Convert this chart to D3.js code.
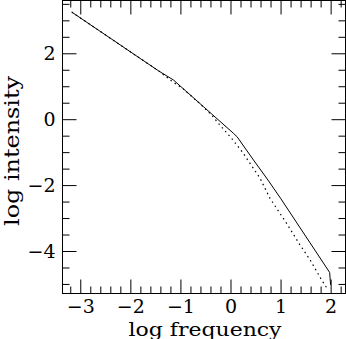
<!DOCTYPE html>
<html><head><meta charset="utf-8">
<script src="https://cdn.jsdelivr.net/npm/d3@7"></script>
<style>
html,body{margin:0;padding:0;background:#fff;}
svg{display:block;}
text{font-family:"DejaVu Serif","Liberation Serif",serif;fill:#000;}
</style></head>
<body>
<script>
// Data (log frequency, log intensity)
const solidX = [-3.17, -1.81, -1.43, -1.14, -0.54, 0.06, 0.13, 0.46, 0.75, 1.0, 1.98, 2.0];
const solidY = [3.25, 1.85, 1.46, 1.19, 0.38, -0.43, -0.53, -1.24, -1.85, -2.40, -4.65, -5.03];
const dotX = [-3.17, -1.81, -1.43, -1.176, -0.944, -0.611, -0.377, -0.211, 0.022, 0.253, 0.589, 0.788, 1.12, 1.39, 1.59, 1.82, 1.95];
const dotY = [3.25, 1.85, 1.46, 1.16, 0.92, 0.47, 0.13, -0.18, -0.58, -1.03, -1.79, -2.40, -3.16, -3.82, -4.27, -4.88, -5.18];
const xMajor = [-3, -2, -1, 0, 1, 2];
const xMinor = [-3.2,-2.8,-2.6,-2.4,-2.2,-1.8,-1.6,-1.4,-1.2,-0.8,-0.6,-0.4,-0.2,0.2,0.4,0.6,0.8,1.2,1.4,1.6,1.8,2.2];
const yMajor = [-4, -2, 0, 2];
const yMinor = [-5,-4.5,-3.5,-3,-2.5,-1.5,-1,-0.5,0.5,1,1.5,2.5,3,3.5];
const xDomain = [-3.355, 2.297];
const yDomain = [-5.29, 3.602];
const xTitle = "log frequency";
const yTitle = "log intensity";

const W = 346, H = 339;
const L = 62.5, R = 345.5, T = 0.5, B = 293.5;
const svg = d3.select("body").append("svg").attr("width", W).attr("height", H);
const x = d3.scaleLinear().domain(xDomain).range([L, R]);
const y = d3.scaleLinear().domain(yDomain).range([B, T]);
const fmt = d => d < 0 ? "\u2212" + Math.abs(d) : String(d);

function styleAxis(g){
  g.select(".domain").remove();
  g.selectAll("line").attr("stroke","#000").attr("stroke-width",1);
  g.selectAll("text").style("font-size","19px").attr("fill","#000");
}
// bottom
svg.append("g").attr("transform",`translate(0,${B})`)
  .call(d3.axisBottom(x).tickValues(xMajor).tickSize(-14).tickPadding(6.5).tickFormat(fmt)).call(styleAxis);
svg.append("g").attr("transform",`translate(0,${B})`)
  .call(d3.axisBottom(x).tickValues(xMinor).tickSize(-7).tickFormat("")).call(styleAxis);
// top
svg.append("g").attr("transform",`translate(0,${T})`)
  .call(d3.axisTop(x).tickValues(xMajor).tickSize(-14).tickFormat("")).call(styleAxis);
svg.append("g").attr("transform",`translate(0,${T})`)
  .call(d3.axisTop(x).tickValues(xMinor).tickSize(-7).tickFormat("")).call(styleAxis);
// left
svg.append("g").attr("transform",`translate(${L},0)`)
  .call(d3.axisLeft(y).tickValues(yMajor).tickSize(-14).tickPadding(7).tickFormat(fmt)).call(styleAxis);
svg.append("g").attr("transform",`translate(${L},0)`)
  .call(d3.axisLeft(y).tickValues(yMinor).tickSize(-7).tickFormat("")).call(styleAxis);
// right
svg.append("g").attr("transform",`translate(${R},0)`)
  .call(d3.axisRight(y).tickValues(yMajor).tickSize(-14).tickFormat("")).call(styleAxis);
svg.append("g").attr("transform",`translate(${R},0)`)
  .call(d3.axisRight(y).tickValues(yMinor).tickSize(-7).tickFormat("")).call(styleAxis);

// frame
svg.append("rect").attr("x",L).attr("y",T).attr("width",R-L).attr("height",B-T)
  .attr("fill","none").attr("stroke","#000").attr("stroke-width",1);

// clip
svg.append("clipPath").attr("id","clip").append("rect")
  .attr("x",L).attr("y",T).attr("width",R-L).attr("height",B-T);

const line = d3.line().x(d=>x(d[0])).y(d=>y(d[1]));
svg.append("path").attr("clip-path","url(#clip)")
  .attr("d", line(solidX.map((v,i)=>[v, solidY[i]])))
  .attr("fill","none").attr("stroke","#000").attr("stroke-width",1);
svg.append("path").attr("clip-path","url(#clip)")
  .attr("d", line(dotX.map((v,i)=>[v, dotY[i]])))
  .attr("fill","none").attr("stroke","#000").attr("stroke-width",1.2)
  .attr("stroke-dasharray","1.5,3.5");

// titles
svg.append("text").attr("x",(L+R)/2+1).attr("y",335.5).attr("text-anchor","middle")
  .attr("textLength",153).attr("lengthAdjust","spacingAndGlyphs")
  .style("font-size","19px").text(xTitle);
svg.append("text").attr("transform",`translate(19,${(T+B)/2+4}) rotate(-90)`)
  .attr("text-anchor","middle").attr("textLength",150).attr("lengthAdjust","spacingAndGlyphs")
  .style("font-size","20px").text(yTitle);
</script>
</body></html>
